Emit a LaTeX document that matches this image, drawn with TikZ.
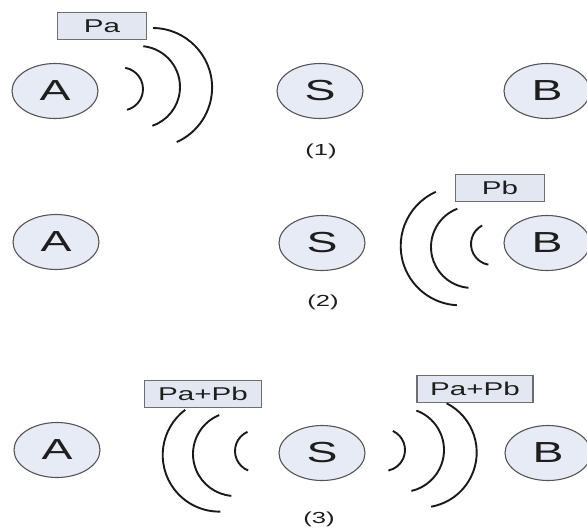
\documentclass[tikz,border=0pt]{standalone}
\usepackage{fontspec}
\setmainfont{Liberation Sans}
\newfontfamily\widefont[FakeStretch=1.6]{Liberation Sans}
\usetikzlibrary{shapes.geometric}
\definecolor{nodefill}{HTML}{E6EBF6}
\definecolor{nodeline}{HTML}{555555}
\definecolor{boxfill}{HTML}{E2E7F1}
\definecolor{boxline}{HTML}{6E6E6E}
\definecolor{waveline}{HTML}{1A1A1A}
\definecolor{textcol}{HTML}{1E1E1E}
\tikzset{
  station/.style={ellipse, draw=nodeline, line width=1.1pt, fill=nodefill,
    minimum width=86pt, minimum height=55pt, inner sep=0pt, text=textcol,
    font=\widefont\fontsize{29}{31}\selectfont},
  pktbox/.style={rectangle, draw=boxline, line width=1.4pt, fill=boxfill,
    minimum height=27pt, inner sep=0pt, text=textcol,
    font=\widefont\fontsize{18.5}{20}\selectfont},
  caption/.style={text=textcol, font=\widefont\fontsize{16}{18}\selectfont},
  wave/.style={draw=waveline, line width=1.9pt}
}
\newcommand\wavearc[5]{\draw[wave] (#1,#2) ++(#4:#3pt) arc[start angle=#4, end angle=#5, radius=#3pt];}
\begin{document}
\begin{tikzpicture}[x=1pt,y=-1pt]
\useasboundingbox (0,0) rectangle (587,531);
% Row 1
\node[station] (A1) at (55,91) {A};
\node[station] (S1) at (320,91) {S};
\node[station] (B1) at (547,91) {B};
\node[pktbox, minimum width=89pt] (Pa) at (102,26) {Pa};
\node[caption] (c1) at (321,151) {(1)};
\wavearc{121.5}{89}{21.5}{80}{-75}
\wavearc{139}{87}{41}{84}{-71}
\wavearc{152.5}{87.6}{59.6}{89.5}{-66}
% Row 2
\node[station] (A2) at (56,242) {A};
\node[station] (S2) at (322,243) {S};
\node[station] (B2) at (547,243) {B};
\node[pktbox, minimum width=89pt] (Pb) at (500,188) {Pb};
\node[caption] (c2) at (323,302) {(2)};
\wavearc{492}{244}{21}{118}{260}
\wavearc{472}{247}{41}{111}{265}
\wavearc{460}{246}{59.3}{114}{267}
% Row 3
\node[station] (A3) at (57,450) {A};
\node[station] (S3) at (322,453) {S};
\node[station] (B3) at (548,453) {B};
\node[pktbox, minimum width=117pt] (PL) at (203,394) {Pa+Pb};
\node[pktbox, minimum width=116pt] (PR) at (475,389) {Pa+Pb};
\node[caption] (c3) at (319,519) {(3)};
\wavearc{256}{451}{21}{114}{248}
\wavearc{235}{454}{42}{112}{265}
\wavearc{219.3}{455}{56.6}{127}{271}
\wavearc{384}{450}{21}{65}{-78}
\wavearc{402}{450}{42}{70}{-77}
\wavearc{421.6}{452.4}{55.1}{63}{-80}
\end{tikzpicture}
\end{document}
